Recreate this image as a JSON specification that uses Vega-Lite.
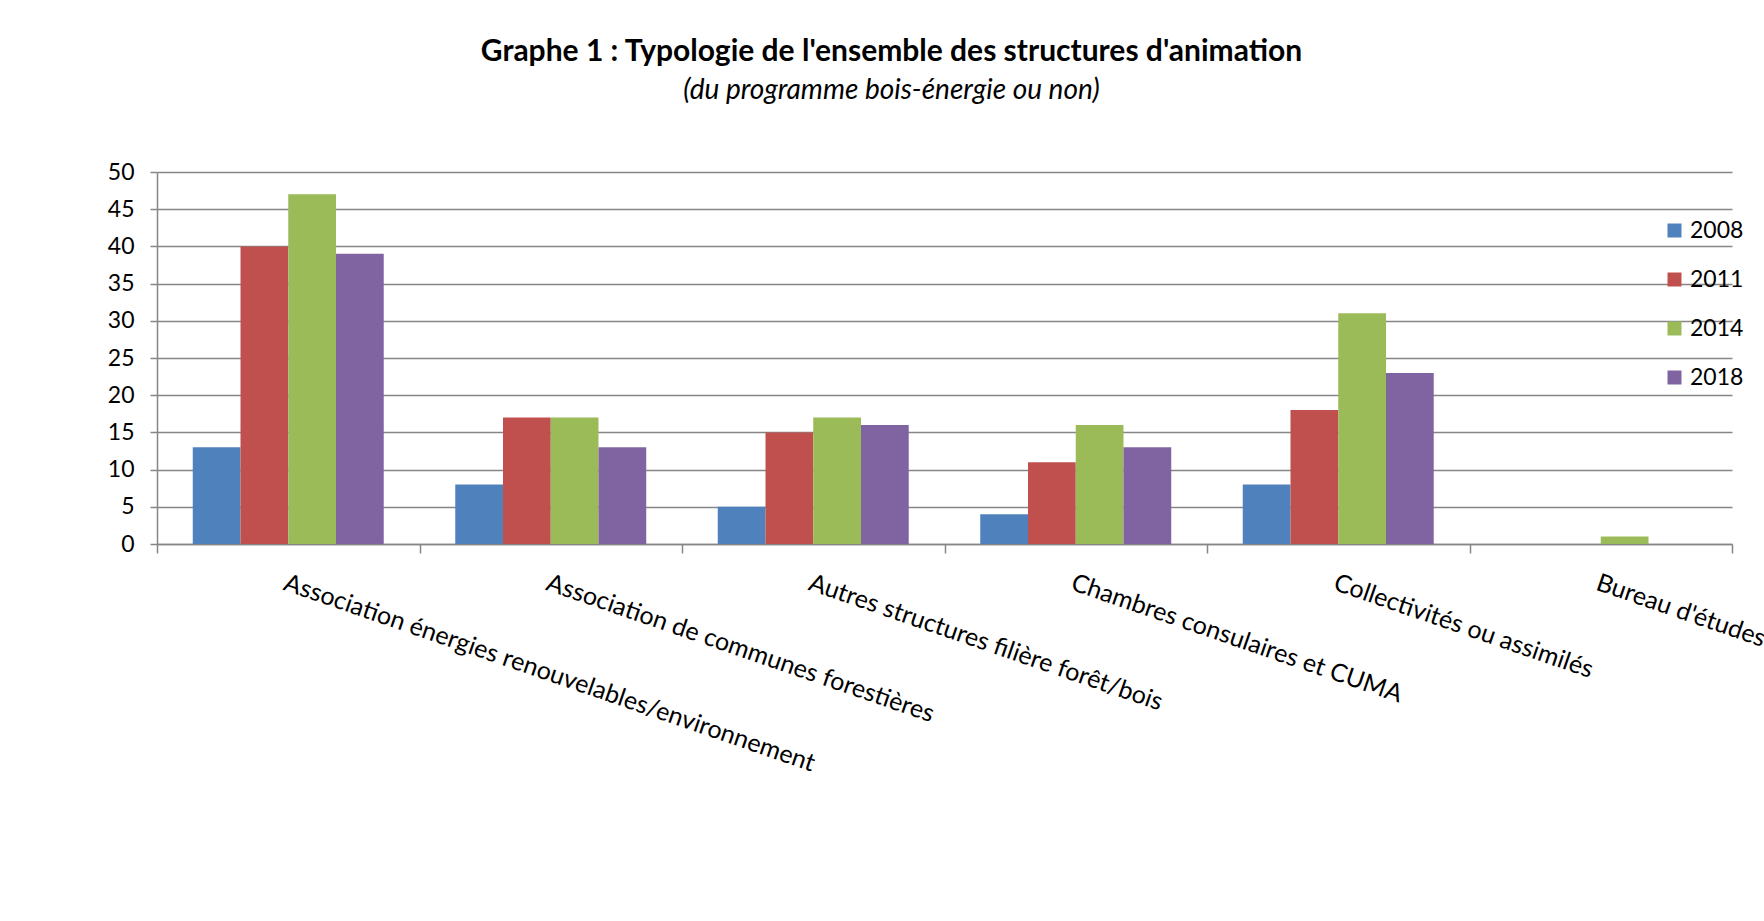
{
  "$schema": "https://vega.github.io/schema/vega-lite/v6.json",
  "width": 1575,
  "height": 372,
  "autosize": {"type": "none"},
  "padding": {"left": 157, "top": 172, "right": 32, "bottom": 377},
  "background": "white",
  "config": {
    "view": {"stroke": null},
    "font": "Lato"
  },
  "title": {
    "text": "Graphe 1 : Typologie de l'ensemble des structures d'animation",
    "subtitle": "(du programme  bois-énergie ou non)",
    "font": "Lato",
    "fontSize": 30,
    "fontWeight": "bold",
    "color": "black",
    "subtitleFont": "Lato",
    "subtitleFontSize": 28,
    "subtitleFontStyle": "italic",
    "subtitleColor": "black",
    "subtitlePadding": 10,
    "anchor": "middle",
    "dx": -53,
    "offset": 56
  },
  "data": {
    "values": [
      {"cat": "Association énergies renouvelables/environnement", "year": "2008", "value": 13},
      {"cat": "Association énergies renouvelables/environnement", "year": "2011", "value": 40},
      {"cat": "Association énergies renouvelables/environnement", "year": "2014", "value": 47},
      {"cat": "Association énergies renouvelables/environnement", "year": "2018", "value": 39},
      {"cat": "Association de communes forestières", "year": "2008", "value": 8},
      {"cat": "Association de communes forestières", "year": "2011", "value": 17},
      {"cat": "Association de communes forestières", "year": "2014", "value": 17},
      {"cat": "Association de communes forestières", "year": "2018", "value": 13},
      {"cat": "Autres structures filière forêt/bois", "year": "2008", "value": 5},
      {"cat": "Autres structures filière forêt/bois", "year": "2011", "value": 15},
      {"cat": "Autres structures filière forêt/bois", "year": "2014", "value": 17},
      {"cat": "Autres structures filière forêt/bois", "year": "2018", "value": 16},
      {"cat": "Chambres consulaires et CUMA", "year": "2008", "value": 4},
      {"cat": "Chambres consulaires et CUMA", "year": "2011", "value": 11},
      {"cat": "Chambres consulaires et CUMA", "year": "2014", "value": 16},
      {"cat": "Chambres consulaires et CUMA", "year": "2018", "value": 13},
      {"cat": "Collectivités ou assimilés", "year": "2008", "value": 8},
      {"cat": "Collectivités ou assimilés", "year": "2011", "value": 18},
      {"cat": "Collectivités ou assimilés", "year": "2014", "value": 31},
      {"cat": "Collectivités ou assimilés", "year": "2018", "value": 23},
      {"cat": "Bureau d'études", "year": "2014", "value": 1}
    ]
  },
  "mark": {"type": "bar"},
  "encoding": {
    "x": {
      "field": "cat",
      "type": "nominal",
      "sort": null,
      "scale": {"paddingInner": 0, "paddingOuter": 0},
      "axis": {
        "title": null,
        "tickBand": "extent",
        "labelAngle": 19,
        "labelAlign": "left",
        "labelBaseline": "top",
        "labelPadding": 17,
        "labelLimit": 0,
        "labelOverlap": false,
        "labelFlush": false,
        "labelFont": "Lato",
        "labelFontSize": 25,
        "labelColor": "black",
        "domainColor": "#868686",
        "domainWidth": 1.5,
        "tickColor": "#868686",
        "tickWidth": 1.5,
        "tickSize": 9
      }
    },
    "xOffset": {
      "field": "year",
      "type": "nominal",
      "scale": {"paddingInner": 0, "paddingOuter": 0.749}
    },
    "y": {
      "field": "value",
      "type": "quantitative",
      "scale": {"domain": [0, 50], "nice": false},
      "axis": {
        "title": null,
        "values": [0, 5, 10, 15, 20, 25, 30, 35, 40, 45, 50],
        "grid": true,
        "gridColor": "#868686",
        "gridWidth": 1.5,
        "domainColor": "#868686",
        "domainWidth": 1.5,
        "tickColor": "#868686",
        "tickWidth": 1.5,
        "tickSize": 7,
        "labelPadding": 16,
        "labelFont": "Lato",
        "labelFontSize": 23,
        "labelColor": "black"
      }
    },
    "color": {
      "field": "year",
      "type": "nominal",
      "scale": {
        "domain": ["2008", "2011", "2014", "2018"],
        "range": ["#4F81BD", "#C0504D", "#9BBB59", "#8064A2"]
      },
      "legend": {
        "title": null,
        "orient": "none",
        "legendX": 1506,
        "legendY": 47,
        "padding": 0,
        "symbolType": "square",
        "symbolSize": 196,
        "symbolStrokeWidth": 0,
        "labelFont": "Lato",
        "labelFontSize": 23,
        "labelColor": "black",
        "labelOffset": 4,
        "rowPadding": 25
      }
    }
  }
}
